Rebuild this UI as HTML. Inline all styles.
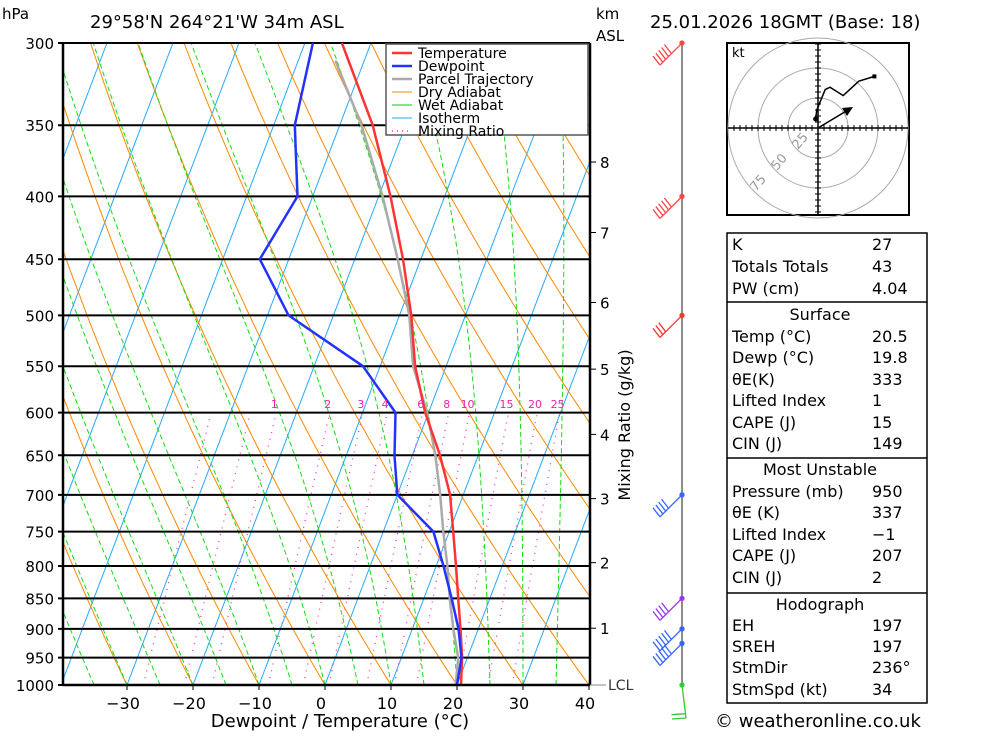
<!DOCTYPE html>
<html><head><meta charset="utf-8"><style>
body{margin:0;background:#fff;width:1000px;height:733px;overflow:hidden;font-family:"Liberation Sans","DejaVu Sans",sans-serif}
svg text{font-family:"DejaVu Sans","Liberation Sans",sans-serif}
</style></head><body>
<svg id="chart" width="1000" height="733" viewBox="0 0 1000 733" xmlns="http://www.w3.org/2000/svg">
<defs><clipPath id="plotclip"><rect x="63" y="43" width="527" height="642"/></clipPath></defs>
<g id="bg" clip-path="url(#plotclip)"></g>
<g id="grid"></g>
<g id="series" clip-path="url(#plotclip)"></g>
<g id="axes"></g>
<text x="2" y="19" font-size="15">hPa</text>
<text x="90" y="28" font-size="18">29°58'N  264°21'W  34m  ASL</text>
<text x="596" y="19" font-size="15">km</text>
<text x="596" y="41" font-size="15">ASL</text>
<text x="650" y="28" font-size="18">25.01.2026  18GMT  (Base: 18)</text>
<text x="340" y="727" font-size="18" text-anchor="middle">Dewpoint / Temperature (°C)</text>
<text transform="translate(630,425) rotate(-90)" font-size="16" text-anchor="middle">Mixing Ratio (g/kg)</text>
<g>
<rect x="386" y="44" width="202" height="91" fill="#fff" stroke="#555" stroke-width="1.5"/>
<line x1="392" y1="53" x2="412" y2="53" stroke="#f33" stroke-width="2.5"/><text x="418" y="58" font-size="14">Temperature</text>
<line x1="392" y1="66" x2="412" y2="66" stroke="#23f" stroke-width="2.5"/><text x="418" y="71" font-size="14">Dewpoint</text>
<line x1="392" y1="79" x2="412" y2="79" stroke="#aaa" stroke-width="2.5"/><text x="418" y="84" font-size="14">Parcel Trajectory</text>
<line x1="392" y1="92" x2="412" y2="92" stroke="#f80" stroke-width="1"/><text x="418" y="97" font-size="14">Dry Adiabat</text>
<line x1="392" y1="105" x2="412" y2="105" stroke="#0c0" stroke-width="1"/><text x="418" y="110" font-size="14">Wet Adiabat</text>
<line x1="392" y1="118" x2="412" y2="118" stroke="#2af" stroke-width="1"/><text x="418" y="123" font-size="14">Isotherm</text>
<line x1="392" y1="131" x2="412" y2="131" stroke="#f3a" stroke-width="1.5" stroke-dasharray="1,4"/><text x="418" y="136" font-size="14">Mixing Ratio</text>
</g>
<g id="barbs"><line x1="682" y1="43" x2="682" y2="685" stroke="#666" stroke-width="1.5"/></g>
<g id="hodo">
<rect x="727" y="43" width="182" height="172" fill="#fff" stroke="#000" stroke-width="2"/>
<text x="732" y="57" font-size="13">kt</text>
</g>
<g font-size="16">
<rect x="727" y="233" width="200" height="470" fill="none" stroke="#000" stroke-width="1.5"/>
<line x1="727" y1="302" x2="927" y2="302" stroke="#000" stroke-width="1.5"/>
<line x1="727" y1="458" x2="927" y2="458" stroke="#000" stroke-width="1.5"/>
<line x1="727" y1="593" x2="927" y2="593" stroke="#000" stroke-width="1.5"/>
<g id="tbl"></g>
</g>
<text x="715" y="727" font-size="18">© weatheronline.co.uk</text>
</svg>
<script>
// ---- data ----
const pressures = [1000,950,900,850,800,750,700,650,600,550,500,450,400,350,300];
const tempValues = [20.6,19.2,17.3,15.2,13.0,10.6,8.0,4.2,-0.5,-4.7,-8.2,-12.7,-18.2,-25,-34.4];
const dewValues = [20.0,19.1,17.0,14.2,11.1,7.6,0,-2.7,-5,-12.6,-26.8,-34.4,-32.3,-36.8,-38.8];
const parcelPressures = [1000,950,900,850,800,750,700,650,600,550,500,450,400,350,310];
const parcelValues = [19.8,18.6,16.2,13.9,11.7,9.1,6.5,3.5,-0.2,-5,-8.5,-13.5,-19.4,-26.7,-34.4];
const xTicks = [-30,-20,-10,0,10,20,30,40];
const pTicks = [300,350,400,450,500,550,600,650,700,750,800,850,900,950,1000];
const kmTicks = [1,2,3,4,5,6,7,8];
const kmPressures = [899,795,705,625,553,488,428,375];
const mixRatios = [0.4,0.7,1,2,3,4,6,8,10,15,20,25];
const mixLabels = [1,2,3,4,6,8,10,15,20,25];
const barbPressures = [300,400,500,700,850,900,925,1000];
const barbSpeeds = [45,45,30,35,40,45,50,15];
const barbColors = ['#f44','#f44','#f33','#36f','#93f','#36f','#36f','#3c3'];
const hodoU = [-2,-1,6,10,21,34,47];
const hodoV = [7.5,15,32,34,27,39,43];
const tableRows = [["K","27",250],["Totals Totals","43",272],["PW (cm)","4.04",294],
["Temp (°C)","20.5",342],["Dewp (°C)","19.8",363],["θE(K)","333",385],["Lifted Index","1",406],["CAPE (J)","15",428],["CIN (J)","149",449],
["Pressure (mb)","950",497],["θE (K)","337",518],["Lifted Index","−1",540],["CAPE (J)","207",561],["CIN (J)","2",583],
["EH","197",631],["SREH","197",652],["StmDir","236°",673],["StmSpd (kt)","34",695]];
const tableHeads = [["Surface",320],["Most Unstable",475],["Hodograph",610]];

// ---- axes ----
const NS='http://www.w3.org/2000/svg';
function yP(p){return 685-533.2*Math.log(1000/p);}
function xT(t,p){return 325+6.6*t+0.38*(685-yP(p));}
function mk(parent,tag,attrs){const e=document.createElementNS(NS,tag);for(const k in attrs)e.setAttribute(k,attrs[k]);parent.appendChild(e);return e;}
const bg=document.getElementById('bg'),grid=document.getElementById('grid'),ser=document.getElementById('series'),axes=document.getElementById('axes');
function pathFrom(pts){return pts.map((q,i)=>(i?'L':'M')+q[0].toFixed(1)+','+q[1].toFixed(1)).join('');}
for(let t=-110;t<=50;t+=10){const e=mk(bg,'line',{x1:xT(t,1000),y1:685,x2:xT(t,300),y2:43,stroke:'#2af','stroke-width':1});
}
for(let th=-60;th<=160;th+=10){const pts=[];for(let p=1000;p>=300;p-=10){const T=(th+273.15)*Math.pow(p/1000,0.286)-273.15;pts.push([xT(T,p),yP(p)]);}
const e=mk(bg,'path',{d:pathFrom(pts),fill:'none',stroke:'#f80','stroke-width':1});
}
function es(T){return 6.112*Math.exp(17.67*T/(T+243.5));}
for(let tw=-45;tw<=45;tw+=5){let T=tw;const pts=[[xT(T,1000),685]];for(let p=1000;p>300;p-=5){const Tk=T+273.15;const rs=0.622*es(T)/(p-es(T));
const g=(287*Tk+2.5e6*rs)/(1004+2.5e6*2.5e6*rs*0.622/(287*Tk*Tk))/p;T-=g*5;pts.push([xT(T,p-5),yP(p-5)]);}
const e=mk(bg,'path',{d:pathFrom(pts),fill:'none',stroke:'#1d1','stroke-width':1,'stroke-dasharray':'5,3'});
}
mixRatios.forEach(w=>{const pts=[];for(let p=1000;p>=600;p-=10){const e=w*p/(622+w);const l=Math.log(e/6.112);const T=243.5*l/(17.67-l);pts.push([xT(T,p),yP(p)]);}
const e=mk(bg,'path',{d:pathFrom(pts),fill:'none',stroke:'#f3a','stroke-width':1.3,'stroke-dasharray':'1,6'});
});
mixLabels.forEach(w=>{const e=w*600/(622+w);const l=Math.log(e/6.112);const T=243.5*l/(17.67-l);
const t=mk(axes,'text',{x:xT(T,600)-2,y:408,'font-size':11,fill:'#e2a','text-anchor':'middle'});t.textContent=w;
});
pTicks.forEach(p=>{const y=yP(p);const l=mk(grid,'line',{x1:58,y1:y,x2:590,y2:y,stroke:'#000','stroke-width':2});

const t=mk(axes,'text',{x:54,y:y+6,'font-size':15,'text-anchor':'end'});t.textContent=p;
});
mk(axes,'line',{x1:63,y1:43,x2:63,y2:685,stroke:'#000','stroke-width':2.5});
mk(axes,'line',{x1:590,y1:43,x2:590,y2:685,stroke:'#000','stroke-width':2.5});
mk(axes,'line',{x1:63,y1:685,x2:590,y2:685,stroke:'#000','stroke-width':2.5});
xTicks.forEach(t=>{const x=xT(t,1000);const e=mk(axes,'text',{x:x-4,y:709,'font-size':16,'text-anchor':'middle'});e.textContent=t<0?'−'+(-t):t;

mk(axes,'line',{x1:x,y1:685,x2:x,y2:690,stroke:'#000','stroke-width':1});});
kmTicks.forEach((k,i)=>{const y=yP(kmPressures[i]);mk(axes,'line',{x1:590,y1:y,x2:596,y2:y,stroke:'#000'});
const t=mk(axes,'text',{x:600,y:y+6,'font-size':15});t.textContent=k;
});
mk(axes,'line',{x1:590,y1:685,x2:606,y2:685,stroke:'#888'});
{const t=mk(axes,'text',{x:608,y:690,'font-size':14,fill:'#333'});t.textContent='LCL';}
function prof(ps,vals,color,w,name){const pts=ps.map((p,i)=>[xT(vals[i],p),yP(p)]);
const e=mk(ser,'path',{d:pathFrom(pts),fill:'none',stroke:color,'stroke-width':w,'stroke-linejoin':'round'});
}
prof(parcelPressures,parcelValues,'#aaa',2.5,'parcel-trajectory');
prof(pressures,tempValues,'#f33',2.5,'temperature-line');
prof(pressures,dewValues,'#23f',2.5,'dewpoint-line');
const bb=document.getElementById('barbs');
barbPressures.forEach((p,i)=>{const y=yP(p),c=barbColors[i];const down=p===1000;
const g=mk(bb,'g',{stroke:c,'stroke-width':1.3,fill:'none'});
mk(g,'circle',{cx:682,cy:y,r:2,fill:c});
let ex,ey;if(down){ex=686;ey=y+33;}else{ex=660;ey=y+22;}
mk(g,'line',{x1:682,y1:y,x2:ex,y2:ey});
let n=Math.round(barbSpeeds[i]/10);for(let k=0;k<n;k++){const bx=ex+(682-ex)*k*0.13,by=ey+(y-ey)*k*0.13;
if(down)mk(g,'line',{x1:bx,y1:by,x2:bx-14,y2:by+1});else mk(g,'line',{x1:bx,y1:by,x2:bx-7,y2:by-9});}});
const ho=document.getElementById('hodo');const hx=818,hy=128;
[30,60,90].forEach(r=>mk(ho,'circle',{cx:hx,cy:hy,r:r,fill:'none',stroke:'#aaa'}));
mk(ho,'line',{x1:728,y1:hy,x2:908,y2:hy,stroke:'#000','stroke-width':1.5});
mk(ho,'line',{x1:hx,y1:44,x2:hx,y2:214,stroke:'#000','stroke-width':1.5});
for(let d=-84;d<=84;d+=6){if(d){mk(ho,'line',{x1:hx+d,y1:hy-3,x2:hx+d,y2:hy+3,stroke:'#000'});mk(ho,'line',{x1:hx-3,y1:hy+d,x2:hx+3,y2:hy+d,stroke:'#000'});}}
[['25',798,150],['50',777,171],['75',756,192]].forEach(a=>{const t=mk(ho,'text',{x:a[1],y:a[2],'font-size':13,fill:'#999',transform:`rotate(-50 ${a[1]} ${a[2]})`});t.textContent=a[0];});
{const pts=hodoU.map((u,i)=>[hx+u*1.2,hy-hodoV[i]*1.2]);const pl=mk(ho,'path',{d:pathFrom(pts),fill:'none',stroke:'#000','stroke-width':1.5});

mk(ho,'circle',{cx:pts[0][0],cy:pts[0][1],r:2.5});mk(ho,'rect',{x:pts[pts.length-1][0]-2,y:pts[pts.length-1][1]-2,width:4,height:4});}
mk(ho,'line',{x1:hx,y1:hy,x2:848,y2:110,stroke:'#000','stroke-width':1.5});
mk(ho,'path',{d:'M853,107 L842,108 L847,116 Z',fill:'#000'});
const tb=document.getElementById('tbl');
tableRows.forEach(r=>{const a=mk(tb,'text',{x:732,y:r[2]});a.textContent=r[0];const b=mk(tb,'text',{x:872,y:r[2]});b.textContent=r[1];
});
tableHeads.forEach(h=>{const t=mk(tb,'text',{x:820,y:h[1],'text-anchor':'middle'});t.textContent=h[0];});
</script>
</body></html>
